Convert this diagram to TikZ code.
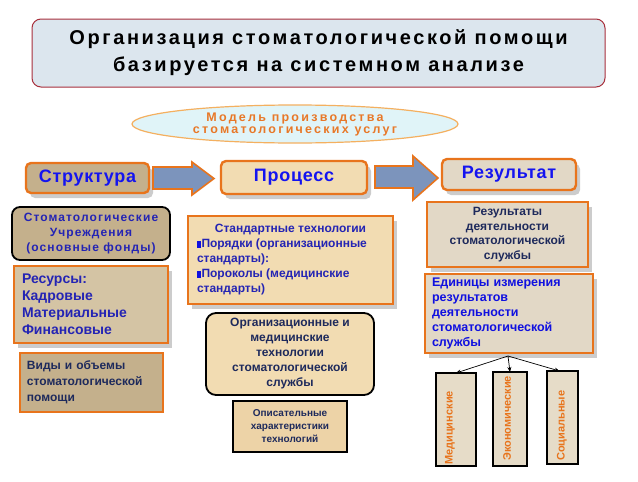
\documentclass[tikz,border=0pt]{standalone}
\usepackage{fontspec}
\setmainfont{Liberation Sans}
\newfontfamily\titlef[LetterSpace=13]{Liberation Sans}
\newfontfamily\ovalf[LetterSpace=18]{Liberation Sans}
\newfontfamily\stomf[LetterSpace=9]{Liberation Sans}
\newfontfamily\hdrf[LetterSpace=4]{Liberation Sans}
\usetikzlibrary{shapes.geometric,shadows,arrows.meta}
\definecolor{titlefill}{HTML}{DCE6EE}
\definecolor{titledraw}{HTML}{A8303C}
\definecolor{ovalfill}{HTML}{E0F4F8}
\definecolor{ovaldraw}{HTML}{F4B060}
\definecolor{ovaltext}{HTML}{E87828}
\definecolor{orng}{HTML}{E8741C}
\definecolor{hdrblue}{HTML}{1414F0}
\definecolor{arrfill}{HTML}{7C94BC}
\definecolor{texa}{HTML}{C4B08C}
\definecolor{texb}{HTML}{D4C4A4}
\definecolor{peach}{HTML}{F2DCB2}
\definecolor{greyb}{HTML}{E2D8C6}
\definecolor{vfill}{HTML}{E6DCC8}
\definecolor{navy}{HTML}{1E2A5C}
\definecolor{txtblue}{HTML}{2424B4}
\definecolor{brightblue}{HTML}{1010E0}
\newcommand{\blt}{\textcolor{brightblue}{\rule{3.5pt}{7pt}}\hspace{1pt}}
\begin{document}
\begin{tikzpicture}[x=1pt,y=-1pt,
  base/.style={inner sep=0pt, outer sep=0pt, align=center},
  obox/.style={base, draw=orng, line width=2.4pt},
  kbox/.style={base, draw=black, line width=1.8pt},
  shad/.style={general shadow={shadow xshift=4pt, shadow yshift=-5pt, fill=gray!40}},
  hdr/.style={obox, shad, rounded corners=5pt, text=hdrblue, font=\hdrf\fontsize{18}{20}\selectfont\bfseries},
  blockarrow/.style={draw=orng, line width=1.6pt, fill=arrfill, line join=miter},
  vbox/.style={kbox, fill=vfill, line width=2pt},
  vtext/.style={rotate=90, anchor=west, inner sep=0pt, text=orng, font=\fontsize{11}{13}\selectfont\bfseries},
  thinarrow/.style={draw=black, line width=0.7pt, -{Stealth[length=5pt,width=4pt]}}
]
\useasboundingbox (0,0) rectangle (638,482);
\fill[white] (0,0) rectangle (638,482);

% title
\node[base, draw=titledraw, line width=1pt, fill=titlefill, rounded corners=9pt,
  minimum width=573pt, minimum height=68pt,
  font=\titlef\bfseries\fontsize{20}{27}\selectfont] (title) at (318.5,53)
  {Организация стоматологической помощи\\базируется на системном анализе};

% oval
\node[ellipse, draw=ovaldraw, line width=1.2pt, fill=ovalfill, minimum width=326pt,
  minimum height=38pt, inner sep=0pt, align=center, text=ovaltext,
  font=\ovalf\bfseries\fontsize{12.5}{12}\selectfont] (oval) at (295,124)
  {Модель производства\\стоматологических услуг};

% header row
\node[hdr, fill=texa, minimum width=123pt, minimum height=30pt] (struct) at (87.5,178) {Структура};
\node[hdr, fill=peach, minimum width=146pt, minimum height=33pt] (proc) at (294,177.5) {Процесс};
\node[hdr, fill=greyb, minimum width=134pt, minimum height=31pt] (res) at (509,174.5) {Результат};

\draw[blockarrow] (153,167) -- (192,167) -- (192,162) -- (214,178.5) -- (192,195) -- (192,189) -- (153,189) -- cycle;
\draw[blockarrow] (375,166) -- (413,166) -- (413,156) -- (438,178) -- (413,200) -- (413,188) -- (375,188) -- cycle;

% left column
\node[kbox, fill=texa, rounded corners=8pt, minimum width=158pt, minimum height=53pt,
  text=txtblue, font=\stomf\bfseries\fontsize{12}{15}\selectfont] (stom) at (91,233.5)
  {Стоматологические\\Учреждения\\(основные фонды)};
\node[obox, shad, fill=texb, minimum width=154pt, minimum height=77pt, text width=138pt, align=left,
  text=txtblue, font=\fontsize{14}{17}\selectfont\bfseries] (resurs) at (91,304.5)
  {Ресурсы:\\Кадровые\\Материальные\\Финансовые};
\node[obox, fill=texa, minimum width=143pt, minimum height=59pt, text width=129pt, align=left,
  text=navy, font=\fontsize{12}{16}\selectfont\bfseries] (vidy) at (91.5,382.5)
  {Виды и объемы\\стоматологической\\помощи};

% middle column
\node[obox, shad, fill=peach, minimum width=205pt, minimum height=88pt, align=center,
  text=txtblue, font=\fontsize{12}{15}\selectfont\bfseries] (std) at (290.5,260)
  {Стандартные технологии\\
   \makebox[187pt][l]{\blt Порядки (организационные}\\
   \makebox[187pt][l]{стандарты):}\\
   \makebox[187pt][l]{\blt Пороколы (медицинские}\\
   \makebox[187pt][l]{стандарты)}};
\node[kbox, fill=peach, rounded corners=10pt, minimum width=168pt, minimum height=82pt,
  text=navy, font=\fontsize{12}{15}\selectfont\bfseries] (org) at (290,354)
  {Организационные и\\медицинские\\технологии\\стоматологической\\службы};
\node[kbox, fill=peach!90!brown, line width=1.4pt, minimum width=114pt, minimum height=51pt,
  text=navy, font=\fontsize{10}{13}\selectfont\bfseries] (opis) at (290,426.5)
  {Описательные\\характеристики\\технологий};

% right column
\node[obox, shad, fill=greyb, minimum width=161pt, minimum height=65pt,
  text=navy, font=\fontsize{12}{14.5}\selectfont\bfseries] (rezd) at (507.5,234.5)
  {Результаты\\деятельности\\стоматологической\\службы};
\node[obox, shad, fill=greyb, minimum width=168pt, minimum height=79pt, text width=154pt, align=left,
  text=brightblue, font=\fontsize{12.5}{15}\selectfont\bfseries] (edin) at (509,313.5)
  {Единицы измерения\\результатов\\деятельности\\стоматологической\\службы};

\node[vbox, minimum width=40pt, minimum height=93pt] (med) at (456,419.5) {};
\node[vbox, minimum width=34pt, minimum height=94pt] (eko) at (510,419) {};
\node[vbox, minimum width=31pt, minimum height=93pt] (soc) at (562.5,417.5) {};
\node[vtext] (medT) at (450,465) {Медицинские};
\node[vtext] (ekoT) at (507,461) {Экономические};
\node[vtext] (socT) at (562,461) {Социальные};

\coordinate (hub) at (508,356);
\draw[thinarrow] (hub) -- (med.north);
\draw[thinarrow] (hub) -- (eko.north);
\draw[thinarrow] (hub) -- ([xshift=-3pt]soc.north);
\end{tikzpicture}
\end{document}
